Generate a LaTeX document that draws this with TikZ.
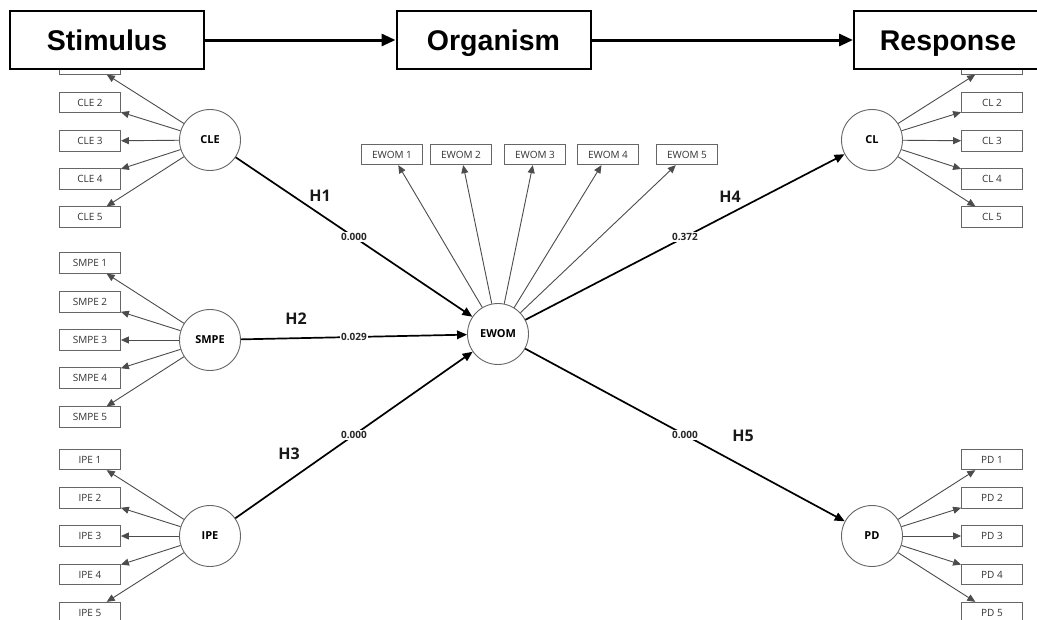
\documentclass[tikz,border=0pt]{standalone}
\usepackage{fontspec}
\newfontfamily\osans{Open Sans}
\newfontfamily\arialf{Liberation Sans}
\usetikzlibrary{arrows.meta}
\begin{document}
\begin{tikzpicture}[x=1pt,y=-1pt,
  ind/.style={draw=black!60, line width=0.8pt, fill=white, minimum width=61pt, minimum height=20.5pt, inner sep=0pt,
    font=\osans\fontsize{10}{11}\selectfont, text=black!80},
  lv/.style={circle, draw=black!60, line width=0.9pt, fill=white, minimum size=61pt, inner sep=0pt,
    font=\osans\bfseries\fontsize{11}{12}\selectfont},
  load/.style={draw=black!70, line width=0.9pt, -{Triangle[length=8pt,width=7pt]}},
  struct/.style={draw=black, line width=1.7pt, -{Triangle[length=10pt,width=8.5pt]}},
  pval/.style={fill=white, inner sep=1.2pt, font=\osans\bfseries\fontsize{10}{11}\selectfont, text=black!85},
  hyp/.style={font=\osans\bfseries\fontsize{16}{18}\selectfont, text=black!90},
  topbox/.style={draw=black, line width=2pt, fill=white, minimum width=194pt, minimum height=58pt, inner sep=0pt,
    text height=22pt, text depth=2pt, font=\arialf\bfseries\fontsize{28.5}{31}\selectfont},
  toparrow/.style={draw=black, line width=3pt, -{Triangle[length=14pt,width=12pt]}}
]
\useasboundingbox (0,0) rectangle (1037,619);
\fill[white] (0,0) rectangle (1037,619);

% latent variables
\node[lv] (CLE) at (210,140) {CLE};
\node[lv] (SMPE) at (210,340) {SMPE};
\node[lv] (IPE) at (210,536) {IPE};
\node[lv] (EWOM) at (498,334) {EWOM};
\node[lv] (CL) at (872,140) {CL};
\node[lv] (PD) at (872,536) {PD};

% CLE indicators
\node[ind] (cle1) at (90,64) {};
\node[ind] (cle2) at (90,102.5) {CLE 2};
\node[ind] (cle3) at (90,141) {CLE 3};
\node[ind] (cle4) at (90,179) {CLE 4};
\node[ind] (cle5) at (90,217) {CLE 5};
% SMPE indicators
\node[ind] (smpe1) at (90,263) {SMPE 1};
\node[ind] (smpe2) at (90,302) {SMPE 2};
\node[ind] (smpe3) at (90,340) {SMPE 3};
\node[ind] (smpe4) at (90,378) {SMPE 4};
\node[ind] (smpe5) at (90,417) {SMPE 5};
% IPE indicators
\node[ind] (ipe1) at (90,459.5) {IPE 1};
\node[ind] (ipe2) at (90,498) {IPE 2};
\node[ind] (ipe3) at (90,536) {IPE 3};
\node[ind] (ipe4) at (90,574.5) {IPE 4};
\node[ind] (ipe5) at (90,612.5) {IPE 5};
% EWOM indicators
\node[ind] (ew1) at (392,154.5) {EWOM 1};
\node[ind] (ew2) at (461,154.5) {EWOM 2};
\node[ind] (ew3) at (535,154.5) {EWOM 3};
\node[ind] (ew4) at (608,154.5) {EWOM 4};
\node[ind] (ew5) at (687,154.5) {EWOM 5};
% CL indicators
\node[ind] (cl1) at (992,64) {};
\node[ind] (cl2) at (992,102.5) {CL 2};
\node[ind] (cl3) at (992,141) {CL 3};
\node[ind] (cl4) at (992,179) {CL 4};
\node[ind] (cl5) at (992,217) {CL 5};
% PD indicators
\node[ind] (pd1) at (992,459.5) {PD 1};
\node[ind] (pd2) at (992,498) {PD 2};
\node[ind] (pd3) at (992,536) {PD 3};
\node[ind] (pd4) at (992,574.5) {PD 4};
\node[ind] (pd5) at (992,612.5) {PD 5};

% loadings
\foreach \i in {1,...,5} {
  \draw[load] (CLE) -- (cle\i);
  \draw[load] (SMPE) -- (smpe\i);
  \draw[load] (IPE) -- (ipe\i);
  \draw[load] (EWOM) -- (ew\i);
  \draw[load] (CL) -- (cl\i);
  \draw[load] (PD) -- (pd\i);
}

% structural paths
\draw[struct] (CLE) -- node[pval] {0.000} (EWOM);
\draw[struct] (SMPE) -- node[pval] {0.029} (EWOM);
\draw[struct] (IPE) -- node[pval] {0.000} (EWOM);
\draw[struct] (EWOM) -- node[pval] {0.372} (CL);
\draw[struct] (EWOM) -- node[pval] {0.000} (PD);

% hypothesis labels
\node[hyp] (h1) at (320,196) {H1};
\node[hyp] (h2) at (296,319) {H2};
\node[hyp] (h3) at (289,454) {H3};
\node[hyp] (h4) at (730,197) {H4};
\node[hyp] (h5) at (743,436) {H5};

% S-O-R header
\node[topbox] (stim) at (107,40) {Stimulus};
\node[topbox] (org) at (493.5,40) {Organism};
\node[topbox, minimum width=188pt] (resp) at (948,40) {Response};
\draw[toparrow] (stim) -- (org);
\draw[toparrow] (org) -- (resp);
\end{tikzpicture}
\end{document}
